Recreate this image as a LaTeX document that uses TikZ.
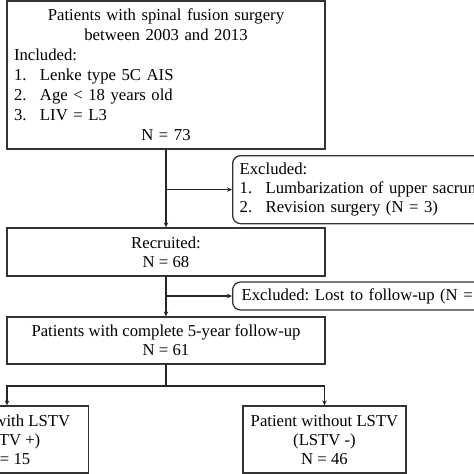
\documentclass[tikz,border=0pt]{standalone}
\usepackage{fontspec}
\setmainfont{Liberation Serif}
\usetikzlibrary{arrows.meta}
\frenchspacing

\begin{document}
\begin{tikzpicture}[x=1pt, y=-1pt,
  box/.style={draw=black!80, line width=1.3pt, inner xsep=7pt, inner ysep=4pt,
    font=\fontsize{16.7}{19}\selectfont, align=center},
  xbox/.style={box, rounded corners=8pt, align=left},
  link/.style={draw=black!85, line width=1.1pt},
  arr/.style={link, -{Stealth[length=5pt, width=4.5pt]}}]
  \useasboundingbox (0,0) rectangle (474,474);
  \node[box, text width=304pt, minimum height=148pt, inner ysep=8pt,
    font=\fontsize{16.7}{20}\selectfont] (p1) at (166,75) {%
    \centering Patients with spinal fusion surgery\\ between 2003 and 2013\par
    \raggedright Included:\\
    \makebox[26pt][l]{1.}Lenke type 5C AIS\\
    \makebox[26pt][l]{2.}Age < 18 years old\\
    \makebox[26pt][l]{3.}LIV = L3\par
    \centering N = 73\par};
  \node[xbox, anchor=north west, text width=280pt, minimum height=68pt] (x1) at (232,155) {%
    Excluded:\\
    \makebox[26pt][l]{1.}Lumbarization of upper sacrum\\
    \makebox[26pt][l]{2.}Revision surgery (N = 3)};
  \node[box, minimum width=318pt, minimum height=48pt] (p2) at (166,252) {Recruited:\\ N = 68};
  \node[xbox, anchor=west, text width=286pt, minimum height=28pt, inner xsep=9pt] (x2) at (232,296) {%
    Excluded: Lost to follow-up (N = 7)};
  \node[box, minimum width=318pt, minimum height=47pt] (p3) at (166,340.5) {%
    Patients with complete 5-year follow-up\\ N = 61};
  \node[box, minimum width=163pt, minimum height=67pt] (p4) at (7,439.5) {%
    Patient with LSTV\\ (LSTV +)\\ N = 15};
  \node[box, minimum width=163pt, minimum height=67pt] (p5) at (324.5,439.5) {%
    Patient without LSTV\\ (LSTV -)\\ N = 46};
  \coordinate (s1) at (166,386);
  \draw[arr] (p1.south) -- (p2.north);
  \draw[arr] (p1.south |- x1.west) -- (x1.west);
  \draw[arr] (p2.south) -- (p3.north);
  \draw[arr] (p2.south |- x2.west) -- (x2.west);
  \draw[link] (p3.south) -- (s1);
  \draw[arr] (s1) -| (p4.north);
  \draw[arr] (s1) -| (p5.north);
\end{tikzpicture}
\end{document}
